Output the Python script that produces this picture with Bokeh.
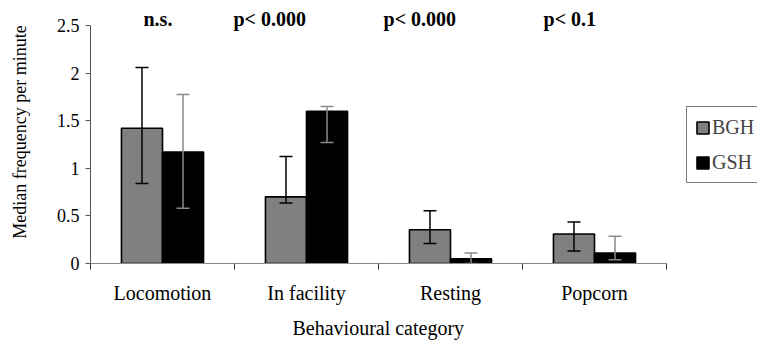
import numpy as np
from bokeh.plotting import figure
from bokeh.models import (ColumnDataSource, FixedTicker, CustomJSTickFormatter,
                          NumeralTickFormatter, Whisker, TeeHead, Legend, Range1d,
                          Title)
from bokeh.core.properties import value
from bokeh.embed import file_html
from bokeh.resources import INLINE

# ---- data ----
categories = ["Locomotion", "In facility", "Resting", "Popcorn"]
bgh_median = [1.42, 0.70, 0.355, 0.31]
bgh_upper = [2.06, 1.125, 0.555, 0.435]
bgh_lower = [0.84, 0.635, 0.21, 0.13]
gsh_median = [1.17, 1.60, 0.05, 0.11]
gsh_upper = [1.775, 1.65, 0.11, 0.285]
gsh_lower = [0.58, 1.27, 0.0, 0.04]
sig_labels = ["n.s.", "p< 0.000", "p< 0.000", "p<  0.1"]
y_ticks = [0, 0.5, 1, 1.5, 2, 2.5]

# ---- layout helpers ----
FONT = "'Liberation Serif', 'Times New Roman', serif"
bar_w = 0.285
sig_x = [0.368, 0.993, 2.035, 3.146]   # left edge of significance labels (data units)
sig_y = 2.568

idx = np.arange(len(categories))
src_b = ColumnDataSource(dict(x=idx + 0.5 - bar_w / 2, top=bgh_median,
                              upper=bgh_upper, lower=bgh_lower))
src_g = ColumnDataSource(dict(x=idx + 0.5 + bar_w / 2, top=gsh_median,
                              upper=gsh_upper, lower=gsh_lower))

p = figure(width=757, height=347, output_backend="svg", toolbar_location=None,
           x_range=Range1d(0, 4.632), y_range=Range1d(0, 2.7626),
           min_border_left=90, min_border_right=0, min_border_top=0,
           min_border_bottom=84)
p.outline_line_color = None
p.xgrid.visible = False
p.ygrid.visible = False
p.background_fill_color = "white"

r_b = p.vbar(x="x", top="top", width=bar_w, source=src_b,
             fill_color="#808080", line_color="black", line_width=1.6)
r_g = p.vbar(x="x", top="top", width=bar_w, source=src_g,
             fill_color="black", line_color="black", line_width=1.6)

wb = Whisker(base="x", upper="upper", lower="lower", source=src_b,
             line_color="black", line_width=1.5, level="annotation",
             upper_head=TeeHead(size=13, line_color="black", line_width=1.5),
             lower_head=TeeHead(size=13, line_color="black", line_width=1.5))
wg = Whisker(base="x", upper="upper", lower="lower", source=src_g,
             line_color="#8a8a8a", line_width=1.5, level="annotation",
             upper_head=TeeHead(size=13, line_color="#8a8a8a", line_width=1.5),
             lower_head=TeeHead(size=13, line_color="#8a8a8a", line_width=1.5))
p.add_layout(wb)
p.add_layout(wg)

# significance labels
src_s = ColumnDataSource(dict(x=sig_x, y=[sig_y] * len(sig_x), t=sig_labels))
p.text(x="x", y="y", text="t", source=src_s, text_font=value(FONT),
       text_font_style="bold", text_font_size="20px", text_baseline="middle",
       text_align="left", text_color="black")

# y axis
ya = p.yaxis[0]
ya.bounds = (0, 2.5)
ya.ticker = FixedTicker(ticks=y_ticks)
ya.formatter = NumeralTickFormatter(format="0.[0]")
ya.major_tick_out = 5
ya.major_tick_in = 0
ya.minor_tick_out = 0
ya.minor_tick_in = 0
ya.axis_line_color = "#555555"
ya.major_tick_line_color = "#555555"
ya.major_label_text_font = FONT
ya.major_label_text_font_size = "18px"
ya.major_label_text_color = "black"
ya.major_label_standoff = 6
ya.axis_label = "Median frequency per minute"
ya.axis_label_text_font = FONT
ya.axis_label_text_font_size = "18px"
ya.axis_label_text_font_style = "normal"
ya.axis_label_text_color = "black"
ya.axis_label_standoff = 24

# x axis
xa = p.xaxis[0]
xa.bounds = (0, 4)
xa.ticker = FixedTicker(ticks=[0.5, 1.5, 2.5, 3.5], minor_ticks=[0, 1, 2, 3, 4])
xa.formatter = CustomJSTickFormatter(args=dict(labels=categories),
                                     code="return labels[Math.floor(tick)];")
xa.major_tick_out = 0
xa.major_tick_in = 0
xa.minor_tick_out = 6
xa.minor_tick_in = 0
xa.minor_tick_line_color = "#333333"
xa.axis_line_color = "#888888"
xa.major_label_text_font = FONT
xa.major_label_text_font_size = "20px"
xa.major_label_text_color = "black"
xa.major_label_standoff = 12

# x axis title, centred under the four categories
x_title = Title(text="Behavioural category", align="left", offset=202,
                text_font=FONT, text_font_size="20px", text_font_style="normal",
                text_color="black", standoff=16)
p.add_layout(x_title, "below")

legend = Legend(items=[("BGH", [r_b]), ("GSH", [r_g])], location=(596, 80),
                glyph_width=15, glyph_height=15, label_standoff=2,
                label_text_font=FONT, label_text_font_size="20px",
                label_height=24, spacing=11, padding=8, margin=0,
                border_line_color="black", border_line_width=1,
                background_fill_color="white", background_fill_alpha=1.0)
p.add_layout(legend)

open("out.html", "w").write(file_html(p, INLINE))
